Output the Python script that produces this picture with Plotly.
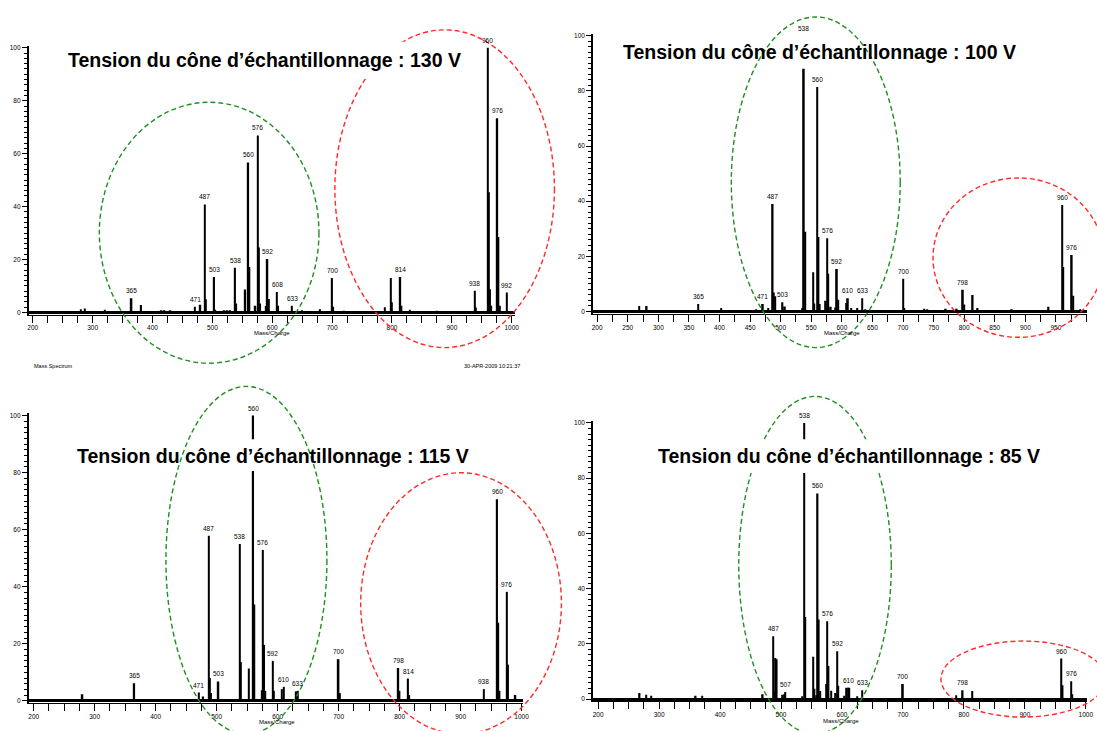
import plotly.graph_objects as go

W, H = 1097, 731

# ---------------- data ----------------
titles = ["Tension du cône d’échantillonnage : 130 V",
          "Tension du cône d’échantillonnage : 100 V",
          "Tension du cône d’échantillonnage : 115 V",
          "Tension du cône d’échantillonnage : 85 V"]

mz_130 = [280, 287, 320, 365, 381, 415, 420, 430, 471, 480, 487, 489, 503, 505, 520, 525, 530,
          538, 540, 555, 560, 562, 572, 576, 578, 580, 590, 592, 594, 608, 610, 633, 650, 680,
          700, 702, 720, 788, 798, 800, 814, 816, 830, 875, 938, 940, 960, 962, 964, 966, 976,
          978, 980, 992]
int_130 = [1.2, 1.5, 1.0, 5.4, 2.8, 0.8, 0.8, 0.8, 2.1, 2.9, 40.8, 5.0, 13.4, 1.0, 0.8, 0.8, 0.8,
           16.9, 3.4, 8.7, 56.7, 17.2, 2.5, 66.9, 24.5, 3.4, 2.4, 20.2, 5.1, 7.7, 2.5, 2.5, 0.8, 1.2,
           13.0, 2.1, 0.6, 2.0, 13.0, 3.8, 13.4, 2.5, 1.0, 0.6, 8.2, 1.9, 100.0, 45.4, 8.8, 2.5, 73.4,
           28.5, 2.5, 7.5]
lab_130 = [365, 471, 487, 503, 538, 560, 576, 592, 608, 633, 700, 814, 938, 960, 976, 992]

mz_100 = [269, 281, 365, 403, 460, 471, 480, 487, 489, 491, 503, 507, 535, 538, 540, 553, 555,
          560, 562, 564, 574, 576, 578, 582, 590, 592, 594, 607, 610, 615, 625, 633, 638, 700,
          702, 735, 740, 770, 788, 798, 800, 814, 822, 878, 938, 960, 962, 976, 978, 990]
int_100 = [2.0, 2.0, 2.7, 1.2, 0.8, 2.7, 1.2, 39.0, 6.9, 5.5, 3.3, 1.8, 1.2, 100.0, 28.9, 14.2, 2.9,
           81.4, 27.0, 2.7, 3.9, 26.6, 13.7, 1.7, 1.4, 15.4, 4.2, 3.1, 4.8, 1.2, 1.2, 4.8, 0.8, 11.9,
           1.2, 1.0, 0.8, 1.0, 1.0, 7.9, 2.5, 6.0, 1.2, 0.8, 1.7, 38.6, 16.1, 20.5, 5.7, 0.8]
lab_100 = [365, 471, 487, 503, 538, 560, 576, 592, 610, 633, 700, 798, 960, 976]

mz_115 = [280, 365, 471, 478, 487, 489, 491, 503, 538, 540, 553, 560, 562, 574, 576, 578, 580,
          592, 594, 607, 610, 631, 633, 700, 702, 798, 800, 814, 816, 938, 960, 962, 964, 976,
          978, 990]
int_115 = [2.3, 6.2, 2.9, 1.5, 57.9, 8.0, 2.7, 6.8, 55.0, 13.6, 11.3, 100.0, 33.8, 3.7, 52.9, 19.6,
           3.5, 14.0, 3.5, 4.1, 4.9, 3.3, 3.5, 14.6, 2.7, 11.5, 3.5, 7.8, 2.0, 4.1, 70.7, 27.4, 3.5,
           38.2, 12.7, 2.0]
lab_115 = [365, 471, 487, 503, 538, 560, 576, 592, 610, 633, 700, 798, 814, 938, 960, 976]

mz_85 = [268, 279, 287, 360, 371, 470, 487, 489, 491, 493, 503, 505, 507, 535, 538, 540, 553,
         555, 558, 560, 562, 564, 574, 576, 578, 582, 590, 592, 594, 604, 608, 610, 612, 625,
         633, 700, 787, 798, 814, 960, 962, 976, 978]
int_85 = [2.2, 1.6, 1.2, 1.2, 1.2, 1.8, 22.8, 3.0, 14.9, 14.4, 1.6, 1.8, 2.6, 1.0, 100.0, 29.7,
          15.3, 3.8, 1.4, 74.5, 28.8, 2.9, 5.5, 28.2, 12.0, 3.0, 2.2, 17.3, 4.8, 1.2, 4.1, 4.1,
          4.1, 1.0, 3.2, 5.5, 1.4, 3.2, 2.9, 14.7, 5.0, 6.5, 1.8]
lab_85 = [487, 507, 538, 560, 576, 592, 610, 633, 700, 798, 960, 976]

xticks_100 = [200, 300, 400, 500, 600, 700, 800, 900, 1000]
xticks_50 = [200, 250, 300, 350, 400, 450, 500, 550, 600, 650, 700, 750, 800, 850, 900, 950]
yticks = [0, 20, 40, 60, 80, 100]

# ---------------- layout helpers ----------------
def rng(v0, p0, v1, p1, pa, pb):
    s = (p1 - p0) / (v1 - v0)
    return [v0 + (pa - p0) / s, v0 + (pb - p0) / s]

def px(x):
    return x / W

def py(y):
    return 1 - y / H

panels = [
    dict(mz=mz_130, it=int_130, lab=lab_130, ticks=xticks_100,
         xmap=(200, 32, 1000, 514), xpx=(28, 517), ymap=(0, 311.7, 100, 46), ypx=(313.8, 44)),
    dict(mz=mz_100, it=int_100, lab=lab_100, ticks=xticks_50,
         xmap=(200, 600, 950, 1061.7), xpx=(596, 1093), ymap=(0, 310.7, 100, 34), ypx=(312.9, 32)),
    dict(mz=mz_115, it=int_115, lab=lab_115, ticks=xticks_100,
         xmap=(200, 32.9, 1000, 523.9), xpx=(28, 525.5), ymap=(0, 701.7, 100, 415.3), ypx=(704, 413)),
    dict(mz=mz_85, it=int_85, lab=lab_85, ticks=xticks_100,
         xmap=(200, 601, 1000, 1091.8), xpx=(596, 1093), ymap=(0, 700, 100, 422.7), ypx=(702.2, 421)),
]

title_pos = [(265.5, 58.5), (823.5, 50), (274, 456), (853.5, 456)]
title_box = [(60, 40, 472, 77), (619, 33, 1028, 67), (68, 439, 478, 471), (655, 439, 1052, 473)]
mc_pos = [(273, 332), (846, 332), (277.5, 723), (845, 721.5)]

GREEN = "#1f8f1f"
RED = "#ff2b2b"
ellipses = {  # (x0, y0, x1, y1) in pixels, color, above title box?
    0: [((99, 100.7, 320, 362.7), GREEN, False), ((336, 28, 557, 347), RED, False)],
    1: [((735, 15, 905, 347), GREEN, True), ((938, 176.7, 1110, 336.7), RED, False)],
    2: [((166, 386, 328, 735), GREEN, True), ((362, 472.7, 564, 735), RED, False)],
    3: [((742.5, 396, 896, 735), GREEN, False), ((946, 641.7, 1112, 718), RED, False)],
}

fig = go.Figure()
layout = dict(width=W, height=H, margin=dict(l=0, r=0, t=0, b=0),
              paper_bgcolor="white", plot_bgcolor="white", showlegend=False,
              barmode="overlay", font=dict(family="Arial, Liberation Sans", color="black"))
annotations = []
shapes = []
tickfont = dict(family="Arial, Liberation Sans", size=6.5, color="black")

for i, p in enumerate(panels):
    n = "" if i == 0 else str(i + 1)
    xr = rng(*p["xmap"], *p["xpx"])
    yr = rng(*p["ymap"], *p["ypx"])
    layout["xaxis" + n] = dict(
        domain=[px(p["xpx"][0]), px(p["xpx"][1])], range=xr, anchor="y" + n,
        showgrid=False, zeroline=False, showline=True, linecolor="black", linewidth=1.3,
        ticks="outside", ticklen=7, tickwidth=1.2, tickcolor="black",
        tickvals=p["ticks"], ticktext=[str(t) for t in p["ticks"]], tickfont=tickfont,
        minor=dict(dtick=25, tick0=200, ticks="outside", ticklen=7, tickwidth=1.2, tickcolor="black"))
    layout["yaxis" + n] = dict(
        domain=[py(p["ypx"][0]), py(p["ypx"][1])], range=yr, anchor="x" + n,
        showgrid=False, zeroline=True, zerolinecolor="black", zerolinewidth=2.6,
        showline=True, linecolor="black", linewidth=2,
        ticks="outside", ticklen=5, tickwidth=1.2, tickcolor="black",
        tickvals=yticks, tickfont=tickfont,
        minor=dict(dtick=2, tick0=0, ticks="outside", ticklen=3, tickwidth=1, tickcolor="black"))

    fig.add_trace(go.Bar(x=p["mz"], y=p["it"], width=2.6, marker=dict(color="black", line=dict(width=0)),
                         xaxis="x" + n, yaxis="y" + n, hoverinfo="x+y"))

    lookup = dict(zip(p["mz"], p["it"]))
    for m in p["lab"]:
        annotations.append(dict(x=m, y=lookup[m], xref="x" + n, yref="y" + n, text=str(m),
                                showarrow=False, yanchor="bottom", yshift=2,
                                font=dict(size=6.5, color="black")))

    for (e, col, above) in ellipses[i]:
        if not above:
            shapes.append(dict(type="circle", xref="paper", yref="paper", layer="above",
                               x0=px(e[0]), x1=px(e[2]), y0=py(e[3]), y1=py(e[1]),
                               line=dict(color=col, width=1.4, dash="5px,3px")))
    b = title_box[i]
    shapes.append(dict(type="rect", xref="paper", yref="paper", layer="above",
                       x0=px(b[0]), x1=px(b[2]), y0=py(b[3]), y1=py(b[1]),
                       fillcolor="white", line=dict(width=0)))
    for (e, col, above) in ellipses[i]:
        if above:
            shapes.append(dict(type="circle", xref="paper", yref="paper", layer="above",
                               x0=px(e[0]), x1=px(e[2]), y0=py(e[3]), y1=py(e[1]),
                               line=dict(color=col, width=1.4, dash="5px,3px")))

    tx, ty = title_pos[i]
    annotations.append(dict(x=px(tx), y=py(ty), xref="paper", yref="paper", text="<b>" + titles[i] + "</b>",
                            showarrow=False, xanchor="center", yanchor="middle",
                            font=dict(family="Arial, Liberation Sans", size=19.5, color="black")))
    mx, my = mc_pos[i]
    annotations.append(dict(x=px(mx), y=py(my), xref="paper", yref="paper", text="Mass/Charge",
                            showarrow=False, xanchor="center", yanchor="middle",
                            font=dict(size=6, color="black")))

annotations.append(dict(x=px(31), y=py(365.5), xref="paper", yref="paper", text="Mass Spectrum",
                        showarrow=False, xanchor="left", yanchor="middle", font=dict(size=5.5, color="black")))
annotations.append(dict(x=px(524), y=py(365.5), xref="paper", yref="paper", text="30-APR-2009 10:21:37",
                        showarrow=False, xanchor="right", yanchor="middle", font=dict(size=5.5, color="black")))

layout["annotations"] = annotations
layout["shapes"] = shapes
fig.update_layout(**layout)
fig.write_html("out.html", config={"displayModeBar": False},
               post_script="document.body.style.margin='0';document.body.style.overflow='hidden';")
